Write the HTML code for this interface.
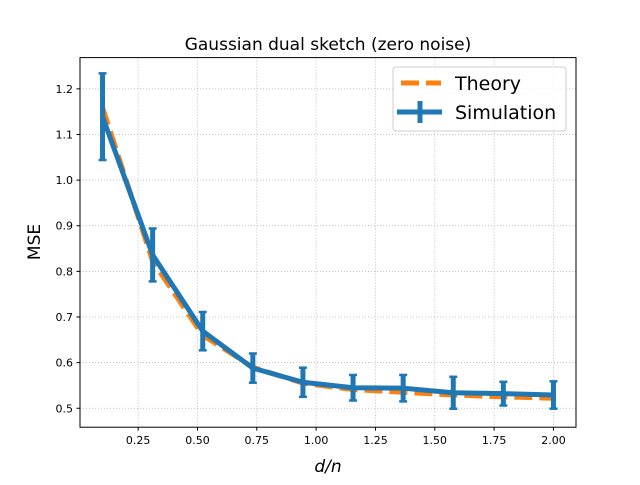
<!DOCTYPE html>
<html><head><meta charset="utf-8"><style>
body{margin:0;background:#fff;}
svg text{font-family:"DejaVu Sans","Liberation Sans",sans-serif;}
</style></head><body>
<svg id="chart" width="640" height="480" xmlns="http://www.w3.org/2000/svg">
<rect width="640" height="480" fill="#fff"/>
<g id="grid"></g>
<g id="series"></g>
<rect x="80" y="57.6" width="496" height="369.6" fill="none" stroke="#000" stroke-width="1"/>
<g id="ticks"></g>
<text x="328" y="50" font-size="17" text-anchor="middle">Gaussian dual sketch (zero noise)</text>
<text x="328" y="472" font-size="17" text-anchor="middle" font-style="italic">d/n</text>
<text x="0" y="0" font-size="17" text-anchor="middle" transform="translate(40,242) rotate(-90)">MSE</text>
<g>
<rect x="393" y="67" width="173" height="64" rx="3" fill="#fff" fill-opacity="0.8" stroke="#ccc"/>
<line x1="401" y1="83" x2="441" y2="83" stroke="#ff7f0e" stroke-width="5" stroke-dasharray="18,7"/>
<text x="455" y="90" font-size="19">Theory</text>
<line x1="397" y1="112" x2="442" y2="112" stroke="#1f77b4" stroke-width="5"/>
<line x1="420" y1="101" x2="420" y2="123" stroke="#1f77b4" stroke-width="5"/>
<text x="455" y="119" font-size="19">Simulation</text>
</g>
</svg>
<script>
const xs=[0.1,0.3111,0.5222,0.7333,0.9444,1.1556,1.3667,1.5778,1.7889,2.0];
const theory=[1.159,0.822,0.66,0.59,0.555,0.541,0.535,0.529,0.525,0.522];
const sim=[1.139,0.836,0.669,0.588,0.557,0.545,0.544,0.534,0.532,0.529];
const simErr=[0.095,0.058,0.042,0.032,0.032,0.028,0.029,0.035,0.026,0.03];
const xTicks=[0.25,0.5,0.75,1.0,1.25,1.5,1.75,2.0];
const xTickLabels=["0.25","0.50","0.75","1.00","1.25","1.50","1.75","2.00"];
const yTicks=[0.5,0.6,0.7,0.8,0.9,1.0,1.1,1.2];
const yTickLabels=["0.5","0.6","0.7","0.8","0.9","1.0","1.1","1.2"];
const X0=80,X1=576,Y0=427.2,Y1=57.6,xmin=0.005,xmax=2.095,ymin=0.4585,ymax=1.2685;
const sx=v=>X0+(v-xmin)/(xmax-xmin)*(X1-X0);
const sy=v=>Y0-(v-ymin)/(ymax-ymin)*(Y0-Y1);
const NS="http://www.w3.org/2000/svg";
function mk(t,a,p){const e=document.createElementNS(NS,t);for(const k in a)e.setAttribute(k,a[k]);p.appendChild(e);return e;}
const grid=document.getElementById('grid'),ticks=document.getElementById('ticks'),ser=document.getElementById('series');
xTicks.forEach((v,i)=>{const x=sx(v);
const g=mk('line',{x1:x,x2:x,y1:Y1,y2:Y0,stroke:'#b0b0b0','stroke-width':0.8,'stroke-dasharray':'1,2'},grid);


mk('line',{x1:x,x2:x,y1:Y0,y2:Y0+3.5,stroke:'#000'},ticks);
const t=mk('text',{x:x,y:Y0+17,'font-size':11,'text-anchor':'middle'},ticks);t.textContent=xTickLabels[i];

});
yTicks.forEach((v,i)=>{const y=sy(v);
const g=mk('line',{x1:X0,x2:X1,y1:y,y2:y,stroke:'#b0b0b0','stroke-width':0.8,'stroke-dasharray':'1,2'},grid);


mk('line',{x1:X0-3.5,x2:X0,y1:y,y2:y,stroke:'#000'},ticks);
const t=mk('text',{x:X0-7,y:y+4,'font-size':11,'text-anchor':'end'},ticks);t.textContent=yTickLabels[i];

});
const tp=mk('polyline',{points:xs.map((x,i)=>sx(x)+','+sy(theory[i])).join(' '),fill:'none',stroke:'#ff7f0e','stroke-width':5,'stroke-dasharray':'18,7'},ser);


const sp=mk('polyline',{points:xs.map((x,i)=>sx(x)+','+sy(sim[i])).join(' '),fill:'none',stroke:'#1f77b4','stroke-width':5,'stroke-linejoin':'round'},ser);


xs.forEach((x,i)=>{const px=sx(x),a=sy(sim[i]+simErr[i]),b=sy(sim[i]-simErr[i]);
const eg=mk('g',{},ser);


mk('line',{x1:px,x2:px,y1:a,y2:b,stroke:'#1f77b4','stroke-width':5},eg);
mk('line',{x1:px-4,x2:px+4,y1:a,y2:a,stroke:'#1f77b4','stroke-width':2.5},eg);
mk('line',{x1:px-4,x2:px+4,y1:b,y2:b,stroke:'#1f77b4','stroke-width':2.5},eg);});
</script>
</body></html>
